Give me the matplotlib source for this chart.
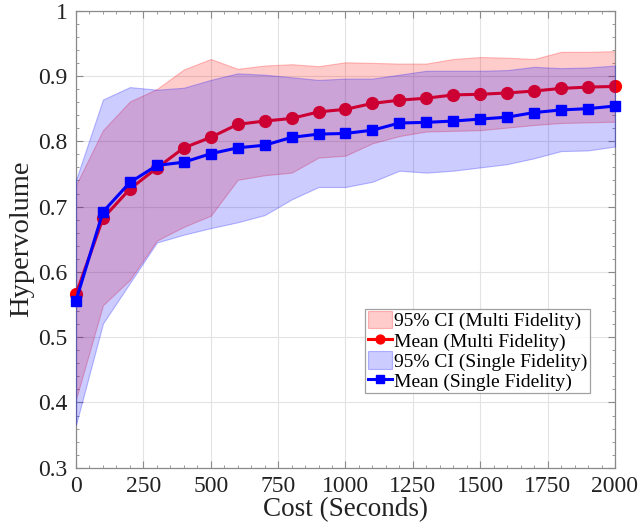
import matplotlib.pyplot as plt
import matplotlib.ticker as ticker
import numpy as np

# -- Data ----------------------------------------------------------------------
cost = [0, 100, 200, 300, 400, 500, 600, 700, 800, 900, 1000,
        1100, 1200, 1300, 1400, 1500, 1600, 1700, 1800, 1900, 2000]

mf_mean = [0.566, 0.682, 0.727, 0.759, 0.790, 0.806, 0.826, 0.831, 0.835, 0.845, 0.849,
           0.858, 0.863, 0.866, 0.871, 0.872, 0.874, 0.877, 0.881, 0.883, 0.884]
mf_upper = [0.733, 0.817, 0.861, 0.880, 0.910, 0.926, 0.911, 0.916, 0.918, 0.915, 0.921,
            0.920, 0.919, 0.919, 0.926, 0.929, 0.928, 0.926, 0.937, 0.937, 0.938]
mf_lower = [0.405, 0.549, 0.588, 0.648, 0.669, 0.686, 0.741, 0.748, 0.752, 0.775, 0.778,
            0.797, 0.808, 0.815, 0.816, 0.817, 0.821, 0.825, 0.828, 0.829, 0.830]

sf_mean = [0.556, 0.692, 0.737, 0.763, 0.768, 0.781, 0.790, 0.794, 0.806, 0.811, 0.812,
           0.817, 0.828, 0.829, 0.831, 0.834, 0.837, 0.844, 0.848, 0.850, 0.854]
sf_upper = [0.741, 0.864, 0.883, 0.879, 0.882, 0.894, 0.904, 0.902, 0.898, 0.894, 0.896,
            0.896, 0.902, 0.908, 0.908, 0.908, 0.909, 0.914, 0.912, 0.913, 0.916]
sf_lower = [0.366, 0.521, 0.583, 0.645, 0.657, 0.667, 0.676, 0.687, 0.711, 0.730, 0.730,
            0.738, 0.755, 0.752, 0.755, 0.760, 0.765, 0.774, 0.785, 0.786, 0.792]

plt.rcParams["font.family"] = ["Liberation Serif", "DejaVu Serif"]

fig = plt.figure(figsize=(6.41, 5.29), dpi=100)
ax = fig.add_axes([0.1186, 0.1157, 0.8408, 0.8641])

# MATLAB-like draw order: red band, red line, blue band, blue line
ax.fill_between(cost, mf_lower, mf_upper, facecolor=(1, 0, 0, 0.2),
                edgecolor=(1, 0, 0, 0.25), linewidth=0.8,
                label="95% CI (Multi Fidelity)", zorder=2)
ax.plot(cost, mf_mean, color="red", linewidth=2.2, marker="o", markersize=8.5,
        label="Mean (Multi Fidelity)", zorder=3, clip_on=False)
ax.fill_between(cost, sf_lower, sf_upper, facecolor=(0, 0, 1, 0.2),
                edgecolor=(0, 0, 1, 0.25), linewidth=0.8,
                label="95% CI (Single Fidelity)", zorder=4)
ax.plot(cost, sf_mean, color="blue", linewidth=2.2, marker="s", markersize=7.5,
        label="Mean (Single Fidelity)", zorder=5, clip_on=False)

ax.set_xlim(0, 2000)
ax.set_ylim(0.3, 1.0)
ax.xaxis.set_major_locator(ticker.MultipleLocator(250))
ax.xaxis.set_minor_locator(ticker.MultipleLocator(50))
ax.yaxis.set_major_locator(ticker.MultipleLocator(0.1))
ax.yaxis.set_minor_locator(ticker.MultipleLocator(0.02))
ax.yaxis.set_major_formatter(ticker.FuncFormatter(lambda v, _: f"{v:g}"))

ax.grid(which="major", color="#e3e3e3", linewidth=0.8, zorder=0)
ax.set_axisbelow(True)
for sp in ax.spines.values():
    sp.set_color("#8a8a8a")
    sp.set_linewidth(0.9)
ax.tick_params(which="both", direction="in", top=True, right=True,
               colors="#8a8a8a", labelcolor="#222222")
ax.tick_params(which="major", length=5, labelsize=17, pad=6)
ax.tick_params(which="minor", length=2.5)

ax.set_xlabel("Cost (Seconds)", fontsize=19.5, color="#222222", labelpad=0)
ax.set_ylabel("Hypervolume", fontsize=20.5, color="#222222", labelpad=3)

leg = ax.legend(loc="lower left", bbox_to_anchor=(0.537, 0.163),
                fontsize=14, frameon=True, fancybox=False,
                handlelength=1.25, handleheight=1.0, handletextpad=0.1,
                borderpad=0.12, labelspacing=0.04, borderaxespad=0,
                markerscale=0.75)
leg.get_frame().set_edgecolor("#8a8a8a")
leg.get_frame().set_linewidth(0.9)
leg.set_zorder(10)

fig.savefig("out.png", dpi=100)
